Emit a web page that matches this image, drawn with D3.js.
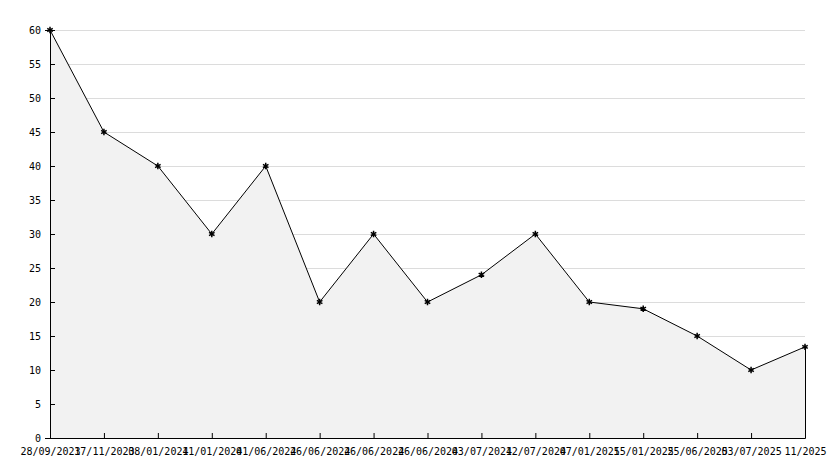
<!DOCTYPE html>
<html><head><meta charset="utf-8">
<script src="https://cdn.jsdelivr.net/npm/d3@7"></script>
<style>body{margin:0;background:#fff}</style></head>
<body><svg id="chart" width="834" height="468"></svg>
<script>
// Data
const dateLabels = ["28/09/2023","17/11/2023","08/01/2024","11/01/2024","01/06/2024","26/06/2024","26/06/2024","26/06/2024","03/07/2024","12/07/2024","07/01/2025","15/01/2025","25/06/2025","03/07/2025","11/2025"];
const values = [60,45,40,30,40,20,30,20,24,30,20,19,15,10,13.4];
const yTicks = d3.range(0, 61, 5);

const svg = d3.select("#chart");
const margin = {left: 50, right: 29, top: 30, bottom: 30};
const w = 834 - margin.left - margin.right, h = 468 - margin.top - margin.bottom;
const g = svg.append("g").attr("transform", `translate(${margin.left},${margin.top})`);

const x = d3.scalePoint().domain(d3.range(values.length)).range([0, w]);
const y = d3.scaleLinear().domain([0, 60]).range([h, 0]);

// grid
g.selectAll(".grid").data(yTicks.slice(1)).join("line")
  .attr("x1", 0).attr("x2", w).attr("y1", d => y(d)).attr("y2", d => y(d))
  .attr("stroke", "#dcdcdc").attr("stroke-width", 1).attr("shape-rendering", "crispEdges");

// area
g.append("path").datum(values)
  .attr("fill", "#f2f2f2")
  .attr("d", d3.area().x((d, i) => x(i)).y0(h).y1(d => y(d)));
g.append("line").attr("x1", w).attr("x2", w).attr("y1", y(values[values.length - 1])).attr("y2", h)
  .attr("stroke", "#000").attr("shape-rendering", "crispEdges");

// line
g.append("path").datum(values)
  .attr("fill", "none").attr("stroke", "#000").attr("stroke-width", 1)
  .attr("d", d3.line().x((d, i) => x(i)).y(d => y(d)));

// markers
g.selectAll(".pt").data(values).join("path")
  .attr("transform", (d, i) => `translate(${x(i)},${y(d)})`)
  .attr("d", d3.symbol(d3.symbolAsterisk, 28))
  .attr("stroke", "#000").attr("stroke-width", 1.5).attr("fill", "none");

const font = "DejaVu Sans Mono";
// axes
const yAxis = g.append("g").call(d3.axisLeft(y).tickValues(yTicks).tickSize(5).tickPadding(4));
const xAxis = g.append("g").attr("transform", `translate(0,${h})`)
  .call(d3.axisBottom(x).tickFormat(i => dateLabels[i]).tickSize(-5).tickPadding(10));
[yAxis, xAxis].forEach(a => {
  a.selectAll("text").attr("font-family", font).attr("font-size", 10).attr("fill", "#000");
  a.select(".domain").attr("stroke", "#000");
  a.selectAll("line").attr("stroke", "#000");
});
yAxis.selectAll(".tick line").attr("x2", 5);
</script></body></html>
